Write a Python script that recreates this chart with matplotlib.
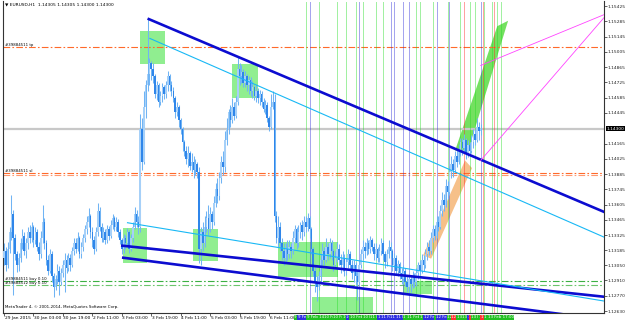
import matplotlib
matplotlib.use('Agg')
import matplotlib.pyplot as plt
import matplotlib.transforms as mtransforms
from matplotlib.patches import Rectangle, Polygon

# ---------------- data ----------------
closes = [
1.1318,1.1305,1.1320,1.1335,1.1352,1.1330,1.1315,1.1305,1.1312,1.1325,
1.1332,1.1318,1.1325,1.1335,1.1330,1.1340,1.1328,1.1335,1.1322,1.1315,
1.1330,1.1345,1.1325,1.1310,1.1300,1.1315,1.1295,1.1285,1.1292,1.1300,
1.1290,1.1298,1.1305,1.1310,1.1302,1.1312,1.1305,1.1318,1.1325,1.1320,
1.1330,1.1315,1.1322,1.1330,1.1338,1.1345,1.1350,1.1335,1.1328,1.1320,
1.1335,1.1355,1.1340,1.1330,1.1335,1.1328,1.1338,1.1332,1.1342,1.1348,
1.1340,1.1345,1.1335,1.1328,1.1320,1.1330,1.1325,1.1335,1.1320,1.1330,
1.1340,1.1352,1.1345,1.1340,1.1430,1.1400,1.1450,1.1470,1.1480,1.1490,
1.1485,1.1478,1.1462,1.1470,1.1455,1.1460,1.1468,1.1462,1.1470,1.1478,
1.1470,1.1465,1.1458,1.1445,1.1450,1.1438,1.1430,1.1418,1.1410,1.1402,
1.1408,1.1396,1.1400,1.1392,1.1398,1.1390,1.1320,1.1335,1.1325,1.1340,
1.1348,1.1338,1.1352,1.1345,1.1362,1.1375,1.1368,1.1385,1.1400,1.1395,
1.1420,1.1430,1.1445,1.1438,1.1450,1.1442,1.1455,1.1485,1.1478,1.1482,
1.1472,1.1478,1.1470,1.1475,1.1465,1.1468,1.1460,1.1465,1.1458,1.1462,
1.1455,1.1448,1.1452,1.1440,1.1432,1.1450,1.1455,1.1350,1.1330,1.1340,
1.1325,1.1318,1.1312,1.1320,1.1315,1.1322,1.1318,1.1330,1.1338,1.1325,
1.1335,1.1342,1.1335,1.1345,1.1340,1.1348,1.1338,1.1320,1.1300,1.1290,
1.1285,1.1295,1.1310,1.1318,1.1310,1.1322,1.1315,1.1325,1.1318,1.1305,
1.1312,1.1320,1.1310,1.1305,1.1312,1.1300,1.1308,1.1315,1.1305,1.1298,
1.1305,1.1295,1.1290,1.1305,1.1315,1.1322,1.1318,1.1325,1.1320,1.1328,
1.1322,1.1315,1.1320,1.1312,1.1318,1.1325,1.1315,1.1308,1.1315,1.1322,
1.1318,1.1305,1.1312,1.1300,1.1306,1.1298,1.1292,1.1300,1.1290,1.1285,
1.1292,1.1288,1.1295,1.1290,1.1298,1.1305,1.1300,1.1310,1.1305,1.1315,
1.1322,1.1318,1.1330,1.1338,1.1332,1.1345,1.1340,1.1355,1.1365,1.1360,
1.1378,1.1372,1.1390,1.1398,1.1392,1.1405,1.1400,1.1410,1.1418,1.1412,
1.1420,1.1408,1.1415,1.1410,1.1418,1.1425,1.1420,1.1432,1.1428,1.1430]

highs = [
1.1325,1.1322,1.1326,1.1340,1.1369,1.1356,1.1334,1.1318,1.1316,1.1330,
1.1338,1.1335,1.1330,1.1340,1.1342,1.1345,1.1342,1.1340,1.1338,1.1326,
1.1336,1.1360,1.1348,1.1328,1.1314,1.1320,1.1318,1.1298,1.1296,1.1306,
1.1304,1.1302,1.1310,1.1316,1.1314,1.1316,1.1315,1.1322,1.1330,1.1330,
1.1335,1.1332,1.1326,1.1334,1.1342,1.1350,1.1357,1.1352,1.1340,1.1332,
1.1340,1.1362,1.1358,1.1344,1.1340,1.1338,1.1342,1.1341,1.1346,1.1352,
1.1350,1.1349,1.1347,1.1338,1.1330,1.1334,1.1333,1.1339,1.1337,1.1334,
1.1345,1.1358,1.1356,1.1350,1.1444,1.1440,1.1465,1.1475,1.1531,1.1495,
1.1492,1.1490,1.1480,1.1474,1.1472,1.1465,1.1472,1.1470,1.1474,1.1483,
1.1480,1.1474,1.1468,1.1460,1.1455,1.1452,1.1440,1.1432,1.1420,1.1414,
1.1414,1.1410,1.1408,1.1405,1.1402,1.1400,1.1395,1.1340,1.1345,1.1350,
1.1355,1.1360,1.1358,1.1355,1.1368,1.1380,1.1385,1.1390,1.1405,1.1410,
1.1428,1.1440,1.1448,1.1452,1.1458,1.1455,1.1460,1.1497,1.1490,1.1488,
1.1485,1.1483,1.1480,1.1478,1.1477,1.1474,1.1470,1.1470,1.1467,1.1466,
1.1465,1.1458,1.1456,1.1455,1.1442,1.1462,1.1465,1.1462,1.1355,1.1350,
1.1345,1.1330,1.1325,1.1325,1.1328,1.1328,1.1325,1.1336,1.1342,1.1340,
1.1342,1.1345,1.1346,1.1350,1.1350,1.1353,1.1350,1.1340,1.1322,1.1305,
1.1295,1.1300,1.1315,1.1325,1.1322,1.1330,1.1325,1.1330,1.1328,1.1320,
1.1318,1.1326,1.1324,1.1315,1.1318,1.1315,1.1312,1.1320,1.1318,1.1310,
1.1310,1.1308,1.1300,1.1310,1.1320,1.1328,1.1326,1.1330,1.1328,1.1332,
1.1330,1.1325,1.1325,1.1322,1.1324,1.1330,1.1328,1.1318,1.1320,1.1328,
1.1326,1.1320,1.1316,1.1314,1.1310,1.1308,1.1302,1.1305,1.1302,1.1295,
1.1296,1.1295,1.1300,1.1298,1.1302,1.1308,1.1310,1.1315,1.1314,1.1320,
1.1326,1.1328,1.1335,1.1342,1.1342,1.1350,1.1350,1.1360,1.1372,1.1370,
1.1384,1.1382,1.1396,1.1405,1.1402,1.1410,1.1412,1.1416,1.1422,1.1422,
1.1425,1.1422,1.1420,1.1418,1.1424,1.1430,1.1430,1.1440,1.1436,1.1434]

lows = [
1.1305,1.1300,1.1302,1.1316,1.1328,1.1278,1.1310,1.1299,1.1300,1.1308,
1.1320,1.1314,1.1312,1.1320,1.1325,1.1326,1.1322,1.1324,1.1318,1.1310,
1.1312,1.1325,1.1320,1.1305,1.1296,1.1298,1.1290,1.1276,1.1282,1.1288,
1.1278,1.1287,1.1294,1.1280,1.1298,1.1300,1.1300,1.1303,1.1314,1.1316,
1.1318,1.1312,1.1312,1.1318,1.1326,1.1334,1.1340,1.1330,1.1322,1.1315,
1.1318,1.1332,1.1336,1.1326,1.1326,1.1324,1.1325,1.1328,1.1330,1.1338,
1.1336,1.1336,1.1331,1.1324,1.1315,1.1316,1.1320,1.1322,1.1316,1.1318,
1.1326,1.1338,1.1340,1.1334,1.1335,1.1392,1.1398,1.1440,1.1465,1.1470,
1.1475,1.1472,1.1458,1.1456,1.1450,1.1452,1.1455,1.1457,1.1458,1.1465,
1.1465,1.1460,1.1455,1.1440,1.1442,1.1432,1.1425,1.1410,1.1405,1.1398,
1.1395,1.1392,1.1390,1.1385,1.1388,1.1385,1.1307,1.1305,1.1318,1.1322,
1.1335,1.1333,1.1335,1.1338,1.1342,1.1358,1.1362,1.1365,1.1380,1.1388,
1.1390,1.1415,1.1425,1.1432,1.1435,1.1438,1.1440,1.1452,1.1470,1.1472,
1.1468,1.1468,1.1465,1.1462,1.1460,1.1458,1.1456,1.1455,1.1454,1.1452,
1.1450,1.1445,1.1444,1.1436,1.1428,1.1430,1.1448,1.1345,1.1325,1.1322,
1.1318,1.1310,1.1305,1.1308,1.1310,1.1312,1.1312,1.1315,1.1325,1.1320,
1.1322,1.1330,1.1328,1.1332,1.1335,1.1336,1.1330,1.1315,1.1295,1.1280,
1.1272,1.1282,1.1290,1.1305,1.1305,1.1308,1.1310,1.1312,1.1310,1.1300,
1.1302,1.1308,1.1305,1.1298,1.1300,1.1295,1.1296,1.1302,1.1300,1.1292,
1.1290,1.1288,1.1273,1.1288,1.1302,1.1310,1.1312,1.1314,1.1315,1.1316,
1.1318,1.1310,1.1310,1.1308,1.1308,1.1314,1.1310,1.1302,1.1304,1.1312,
1.1312,1.1300,1.1302,1.1296,1.1295,1.1292,1.1288,1.1288,1.1286,1.1280,
1.1278,1.1280,1.1284,1.1285,1.1286,1.1292,1.1296,1.1298,1.1300,1.1302,
1.1310,1.1314,1.1315,1.1326,1.1328,1.1330,1.1336,1.1338,1.1350,1.1355,
1.1358,1.1366,1.1370,1.1385,1.1386,1.1390,1.1395,1.1398,1.1405,1.1406,
1.1408,1.1402,1.1404,1.1405,1.1408,1.1412,1.1415,1.1418,1.1420,1.1424]
first_open = 1.1312

time_tick_bars = [0, 16, 32, 48, 64, 80, 96, 112, 128, 144]
time_tick_labels = ["29 Jan 2015", "30 Jan 03:00", "30 Jan 19:00", "2 Feb 11:00",
                    "3 Feb 03:00", "3 Feb 19:00", "4 Feb 11:00", "5 Feb 03:00",
                    "5 Feb 19:00", "6 Feb 11:00"]

price_ticks = [1.15425, 1.15285, 1.15145, 1.15005, 1.14865, 1.14725, 1.14585,
               1.14445, 1.14165, 1.14025, 1.13885, 1.13745, 1.13605, 1.13465,
               1.13325, 1.13185, 1.13050, 1.12910, 1.12770, 1.12630]
price_tick_labels = ["1.15425", "1.15285", "1.15145", "1.15005", "1.14865", "1.14725",
                     "1.14585", "1.14445", "1.14165", "1.14025", "1.13885", "1.13745",
                     "1.13605", "1.13465", "1.13325", "1.13185", "1.13050", "1.12910",
                     "1.12770", "1.12630"]
bid_price = 1.14300

# horizontal order lines: (price, colour key, label)
hline_prices = [1.15051, 1.13896, 1.13874, 1.12903, 1.12866]
hline_kinds = ["o", "o", "o2", "g", "g2"]
hline_labels = ["#39884511 tp", "#39884511 sl", "", "#39884511 buy 0.10", "#39884512 buy 0.10"]

# trend lines: anchor1 (bar, price), anchor2 (bar, price), kind
tl_x1 = [78.0, 79.0, 63.6, 64.1, 66.8]
tl_p1 = [1.1531, 1.1513, 1.1323, 1.1312, 1.1344]
tl_x2 = [127.0, 171.7, 326.6, 303.8, 326.6]
tl_p2 = [1.1496, 1.14446, 1.1276, 1.1260, 1.1272]
tl_kind = ["thick", "thin", "thick", "thick", "thin"]

# green rectangles: bar0, bar1, price_low, price_high
rect_b0 = [73.9, 123.9, 64.7, 102.7, 148.9, 167.4, 216.8]
rect_b1 = [87.5, 138.0, 77.7, 116.3, 181.5, 200.5, 232.6]
rect_lo = [1.14895, 1.14583, 1.13072, 1.13090, 1.12944, 1.12590, 1.12788]
rect_hi = [1.15197, 1.14895, 1.13393, 1.13384, 1.13264, 1.12761, 1.12907]

# wedge-shaped objects (bar, price vertices)
orange_wedge_b = [227.7, 232.1, 254.3, 250.5]
orange_wedge_p = [1.1314, 1.1311, 1.1394, 1.1401]
green_wedge_b = [245.1, 252.2, 273.9, 268.0]
green_wedge_p = [1.1410, 1.1410, 1.1529, 1.1524]

# magenta lines
mag_b1 = [259.0, 259.0]
mag_p1 = [1.1488, 1.1401]
mag_b2 = [326.6, 326.6]
mag_p2 = [1.1535, 1.1533]

# vertical lines
vline_bars = [164, 166, 171, 181, 186, 191, 193, 195, 202, 206, 210, 212, 217, 220, 224,
              226, 233, 235, 241, 242, 248, 250, 253, 256, 259, 260, 261, 265, 266, 268, 270]
vline_kinds = ['g', 'b', 'g', 'g', 'g', 'g', 'b', 'g', 'g', 'g', 'b', 'b', 'b', 'b', 'g',
               'g', 'g', 'b', 'g', 'b', 'g', 'r', 'g', 'g', 'b', 'r', 'g', 'g', 'r', 'g', 'g']
vline_labels = ["9 Feb 07:00", "9 Feb 09:00", "9 Feb 14:00", "10 Feb 00:00", "10 Feb 05:00",
                "10 Feb 10:00", "10 Feb 12:00", "10 Feb 14:00", "10 Feb 21:00", "11 Feb 01:00",
                "11 Feb 05:00", "11 Feb 07:00", "11 Feb 12:00", "11 Feb 15:00", "11 Feb 19:00",
                "11 Feb 21:00", "12 Feb 04:00", "12 Feb 06:00", "12 Feb 12:00", "12 Feb 13:00",
                "12 Feb 19:00", "12 Feb 21:00", "13 Feb 00:00", "13 Feb 03:00", "13 Feb 06:00",
                "13 Feb 07:00", "13 Feb 08:00", "13 Feb 12:00", "13 Feb 13:00", "13 Feb 15:00",
                "13 Feb 17:00"]

title_text = "\u25BC EURUSD,H1  1.14305 1.14305 1.14300 1.14300"
copyright_text = "MetaTrader 4, \u00A9 2001-2014, MetaQuotes Software Corp."

# ---------------- figure ----------------
W, H = 625, 322
fig = plt.figure(figsize=(W / 100, H / 100), dpi=100)
fig.patch.set_facecolor('white')
L, R, T, B = 3, 604, 1, 313
ax = fig.add_axes([L / W, (H - B) / H, (R - L) / W, (B - T) / H])
ax.set_xlim(-0.54, 326.0)
ax.set_ylim(1.12612, 1.15471)
ax.set_facecolor('white')

FS = 3.2
TXT = '#000000'

# green rectangles (behind)
for b0, b1, lo, hi in zip(rect_b0, rect_b1, rect_lo, rect_hi):
    ax.add_patch(Rectangle((b0, lo), b1 - b0, hi - lo, facecolor='#90ee90',
                           edgecolor='none', zorder=1))

# wedges
ax.add_patch(Polygon(list(zip(orange_wedge_b, orange_wedge_p)), closed=True,
                     facecolor='#f6c089', edgecolor='none', zorder=1))
ax.add_patch(Polygon(list(zip(green_wedge_b, green_wedge_p)), closed=True,
                     facecolor='#74e060', edgecolor='none', zorder=1))

# bid line
ax.axhline(bid_price, color='#c8c8c8', lw=1.6, zorder=1.5)

# horizontal order lines
hcol = {"o": '#ff6a2a', "o2": '#ff9a70', "g": '#3cb043', "g2": '#6cc46c'}
for p, k, lab in zip(hline_prices, hline_kinds, hline_labels):
    ax.axhline(p, color=hcol[k], lw=0.8, ls=(0, (6, 2, 1.5, 2)), zorder=2)
    if lab:
        ax.text(0.6, p, lab, fontsize=2.8, color=TXT, va='bottom', ha='left', zorder=6)

# vertical lines
vcol = {'g': '#22dd22', 'b': '#2a2ad8', 'r': '#ff2020'}
for bx, k in zip(vline_bars, vline_kinds):
    ax.axvline(bx, color=vcol[k], lw=0.6, ls=(0, (1.2, 1.2)), zorder=2)

# candles
opens = [first_open] + closes[:-1]
for i, (o, h, l, c) in enumerate(zip(opens, highs, lows, closes)):
    hh = max(h, o, c)
    ll = min(l, o, c)
    ax.plot([i, i], [ll, hh], color='#70b4f4', lw=0.75, zorder=3, solid_capstyle='butt')
    bot = min(o, c)
    ht = max(abs(c - o), 0.00004)
    fc = '#a6d0f8' if c >= o else '#2f86ea'
    ax.add_patch(Rectangle((i - 0.42, bot), 0.84, ht, facecolor=fc, edgecolor='none', zorder=3.2))

# trend lines (rays to the right)
x_right = 340.0
for x1, p1, x2, p2, k in zip(tl_x1, tl_p1, tl_x2, tl_p2, tl_kind):
    slope = (p2 - p1) / (x2 - x1)
    pe = p1 + slope * (x_right - x1)
    if k == "thick":
        ax.plot([x1, x_right], [p1, pe], color='#0c0cd0', lw=1.9, zorder=4,
                solid_capstyle='butt')
    else:
        ax.plot([x1, x_right], [p1, pe], color='#18b8f5', lw=0.8, zorder=4,
                solid_capstyle='butt')

# magenta lines
for b1, p1, b2, p2 in zip(mag_b1, mag_p1, mag_b2, mag_p2):
    ax.plot([b1, b2], [p1, p2], color='#ff44ff', lw=0.6, zorder=4)

# axes styling
ax.spines['top'].set_visible(False)
for s in ['left', 'right', 'bottom']:
    ax.spines[s].set_color('#333333')
    ax.spines[s].set_linewidth(0.8)

ax.yaxis.tick_right()
ax.set_yticks(price_ticks)
ax.set_yticklabels(price_tick_labels)
ax.tick_params(axis='y', which='both', direction='out', length=1.8, width=0.5,
               labelsize=FS, pad=1.0, colors='#222222')
ax.set_xticks(time_tick_bars)
ax.set_xticklabels([''] * len(time_tick_bars))
ax.tick_params(axis='x', direction='out', length=1.8, width=0.5, colors='#222222')

xtr = mtransforms.blended_transform_factory(ax.transData, ax.transAxes)
for bx, lab in zip(time_tick_bars, time_tick_labels):
    ax.text(bx + 0.3, -0.01, lab, transform=xtr, fontsize=FS, ha='left', va='top',
            color=TXT, clip_on=False)

# vertical line labels on time axis
bcol = {'g': '#22c022', 'b': '#3030e0', 'r': '#ff3030'}
for bx, k, lab in zip(vline_bars, vline_kinds, vline_labels):
    ax.text(bx, -0.008, lab, transform=xtr, fontsize=2.9, ha='center', va='top',
            color='white', clip_on=False, zorder=10,
            bbox=dict(boxstyle='square,pad=0.12', facecolor=bcol[k], edgecolor='none'))

# bid price box on the price axis
ytr = mtransforms.blended_transform_factory(ax.transAxes, ax.transData)
ax.text(1.004, bid_price, "1.14300", transform=ytr, fontsize=FS, ha='left', va='center',
        color='white', clip_on=False, zorder=10,
        bbox=dict(boxstyle='square,pad=0.12', facecolor='black', edgecolor='none'))

# header and copyright
ax.text(0.004, 0.995, title_text, transform=ax.transAxes, fontsize=FS, ha='left', va='top',
        color=TXT, zorder=10)
ax.text(0.004, 0.012, copyright_text, transform=ax.transAxes, fontsize=2.9, ha='left',
        va='bottom', color=TXT, zorder=10)

fig.savefig('out.png', dpi=100, facecolor='white')
